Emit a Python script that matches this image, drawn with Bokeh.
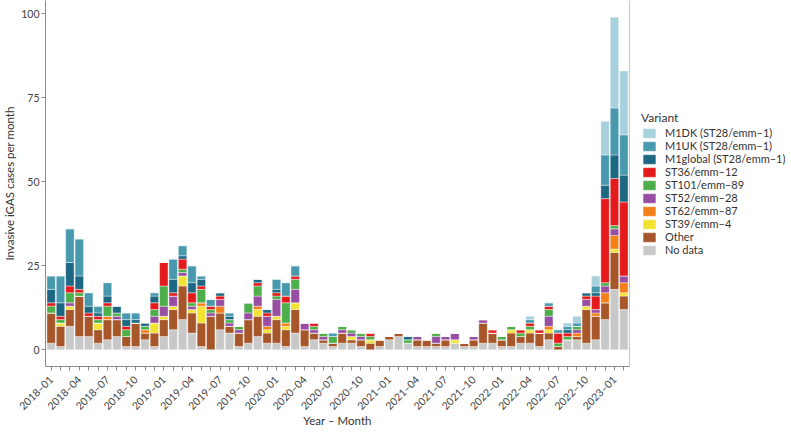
import math
from bokeh.plotting import figure
from bokeh.models import (Range1d, FixedTicker, Legend, LegendItem, Span, ColumnDataSource)
from bokeh.embed import file_html
from bokeh.resources import INLINE

# ---- data -------------------------------------------------------------
months = [f"{y}–{m:02d}" for y in range(2018, 2024) for m in range(1, 13)][:62]

variants = ["No data", "Other", "ST39/emm–4", "ST62/emm–87", "ST52/emm–28",
            "ST101/emm–89", "ST36/emm–12", "M1global (ST28/emm–1)",
            "M1UK (ST28/emm–1)", "M1DK (ST28/emm–1)"]

no_data = [2,1,7,4,4,2,3,4,1,1,3,1, 4,6,9,5,1,0,6,5,1,2,4,2, 2,1,5,1,3,2,1,2,2,1,0,1,
           3,4,2,1,1,1,1,2,1,1,2,2, 1,1,2,2,1,3,0,3,3,2,3,9, 18,12]
other = [9,6,5,12,6,4,6,5,3,7,2,4, 5,6,10,6,7,10,5,2,4,7,6,3, 7,5,7,5,2,1,1,3,1,2,2,2,
         1,1,0,2,2,1,2,0,1,2,6,3, 2,4,2,3,4,2,1,0,1,10,7,5, 11,4]
st39 = [0,1,1,0,0,2,0,0,0,0,0,3, 1,1,3,1,5,0,0,0,0,0,2,1, 1,1,2,0,0,0,0,0,1,0,1,0,
        0,0,0,0,0,0,0,1,0,0,0,0, 0,1,0,1,0,1,0,0,0,1,0,0, 1,1]
st62 = [0,0,0,0,0,0,1,0,0,0,1,0, 0,0,0,0,1,0,2,0,0,0,1,1, 0,1,0,0,0,0,0,0,0,0,0,0,
        0,0,0,0,0,0,0,0,0,0,0,0, 0,0,0,0,0,1,0,0,1,0,1,3, 4,3]
st52 = [0,0,1,0,0,0,0,1,0,0,0,2, 3,3,1,1,0,1,2,1,1,2,3,3, 5,0,4,2,1,1,0,1,1,1,0,0,
        0,0,0,1,0,2,1,2,0,1,1,0, 0,0,0,0,0,3,0,0,1,2,1,2, 2,2]
st101 = [2,1,3,1,0,1,3,1,2,0,1,2, 6,0,1,1,4,1,0,1,1,3,3,0, 1,6,3,0,1,1,2,1,1,1,1,0,
         0,0,1,0,0,1,0,0,0,0,0,0, 1,1,1,1,0,2,1,1,1,0,0,1, 1,0]
st36 = [1,1,2,1,1,1,1,0,1,0,0,2, 7,1,3,3,1,1,1,0,0,0,1,1, 1,2,1,0,1,0,0,0,0,0,1,0,
        0,0,0,0,0,0,0,0,0,0,0,1, 0,0,1,1,1,1,3,1,0,1,4,25, 14,22]
m1global = [4,4,7,4,2,1,2,2,2,1,1,2, 0,4,1,3,2,0,1,1,0,0,1,1, 1,0,0,0,0,0,0,0,0,0,0,0,
            0,0,1,0,0,0,0,0,0,0,0,0, 0,0,0,0,0,0,0,1,0,1,1,4, 7,8]
m1uk = [4,8,10,11,4,2,4,0,2,2,0,1, 0,6,3,5,1,2,0,1,0,0,0,0, 3,4,3,0,0,0,1,0,0,0,0,0,
        0,0,0,0,0,0,0,0,0,0,0,0, 0,0,0,1,0,1,1,1,1,0,2,9, 14,12]
m1dk = [0,0,0,0,0,0,0,0,0,0,0,0, 0,0,0,0,0,0,0,0,0,0,0,0, 0,0,0,0,0,0,0,0,0,0,0,0,
        0,0,0,0,0,0,0,0,0,0,0,0, 0,0,0,1,0,0,0,1,2,0,3,10, 27,19]

y_ticks = [0, 25, 50, 75, 100]

colors = ["#c8c8c8", "#a65628", "#f2e331", "#f47f17", "#984ea3",
          "#4daf4a", "#e41a1c", "#1c6883", "#4899ae", "#a8d1de"]

# ---- figure -----------------------------------------------------------
keys = ["no_data", "other", "st39", "st62", "st52", "st101", "st36", "m1global", "m1uk", "m1dk"]
series = [no_data, other, st39, st62, st52, st101, st36, m1global, m1uk, m1dk]
data = {"x": list(range(len(months)))}
for k, s in zip(keys, series):
    data[k] = s
source = ColumnDataSource(data)

FONT = "Lato"
n = len(months)
p = figure(x_range=Range1d(-0.6, n - 0.4), y_range=Range1d(-4.95, 103.95),
           output_backend="svg", toolbar_location=None,
           frame_width=584, frame_height=366,
           min_border_left=42, min_border_right=165, min_border_top=0, min_border_bottom=56)

renderers = p.vbar_stack(keys, x="x", width=0.9, color=colors, source=source,
                         line_color="white", line_width=0.4)

p.xgrid.grid_line_color = None
p.ygrid.grid_line_color = None
p.outline_line_color = None
p.background_fill_color = "white"

axis_col = "#8a8a8a"
for ax in (p.xaxis[0], p.yaxis[0]):
    ax.axis_line_color = axis_col
    ax.major_tick_line_color = axis_col
    ax.minor_tick_line_color = None
    ax.major_tick_out = 4
    ax.major_tick_in = 0
    ax.major_label_text_font = FONT
    ax.major_label_text_font_size = "10.5px"
    ax.major_label_text_color = "#444444"
    ax.axis_label_text_font = FONT
    ax.axis_label_text_font_size = "11.5px"
    ax.axis_label_text_font_style = "normal"
    ax.axis_label_text_color = "#333333"
    ax.major_label_standoff = 2

p.xaxis.ticker = FixedTicker(ticks=list(range(n)))
p.xaxis.major_label_overrides = {i: (months[i] if i % 3 == 0 else "") for i in range(n)}
p.xaxis.major_label_orientation = math.pi / 4
p.xaxis.major_label_standoff = 7
p.xaxis.axis_label = "Year – Month"
p.xaxis.axis_label_standoff = -5

p.yaxis.ticker = FixedTicker(ticks=y_ticks)
p.yaxis.axis_label = "Invasive iGAS cases per month"
p.yaxis.axis_label_standoff = 2

p.add_layout(Span(location=n - 0.4, dimension="height", line_color=axis_col, line_width=1))

items = [LegendItem(label=v, renderers=[r]) for v, r in zip(variants, renderers)][::-1]
legend = Legend(items=items, title="Variant", location=(12, 110),
                margin=0, padding=0, spacing=0,
                glyph_width=16, glyph_height=12, label_height=12, label_standoff=8,
                label_text_font=FONT, label_text_font_size="11px", label_text_color="#333333",
                title_text_font=FONT, title_text_font_size="12px", title_text_font_style="normal",
                title_text_color="#333333", title_standoff=1,
                border_line_color=None, background_fill_alpha=0)
p.add_layout(legend, "right")

open("out.html", "w").write(file_html(p, INLINE))
